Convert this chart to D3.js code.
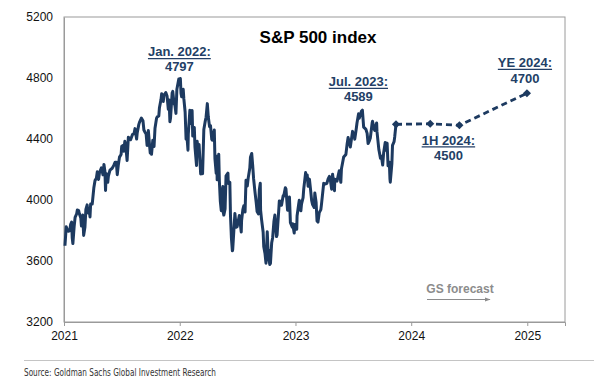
<!DOCTYPE html>
<html>
<head>
<meta charset="utf-8">
<script src="https://cdn.jsdelivr.net/npm/d3@7"></script>
<style>
  html, body { margin: 0; padding: 0; background: #fff; }
  svg { display: block; font-family: Arial, "Liberation Sans", sans-serif; }
</style>
</head>
<body>
<svg id="chart" width="610" height="386"></svg>
<script>
// S&P 500 closes (date, level)
const spx = [
  ["2021-01-04",3700],["2021-01-08",3824],["2021-01-12",3801],["2021-01-14",3795],["2021-01-19",3798],
  ["2021-01-22",3841],["2021-01-25",3855],["2021-01-27",3750],["2021-01-29",3714],["2021-02-02",3826],
  ["2021-02-05",3886],["2021-02-10",3910],["2021-02-12",3934],["2021-02-16",3932],["2021-02-19",3906],
  ["2021-02-23",3881],["2021-02-25",3829],["2021-03-01",3901],["2021-03-04",3768],["2021-03-08",3821],
  ["2021-03-11",3939],["2021-03-15",3968],["2021-03-18",3915],["2021-03-23",3910],["2021-03-24",3889],
  ["2021-03-26",3974],["2021-03-31",3973],["2021-04-05",4078],["2021-04-09",4129],["2021-04-13",4142],
  ["2021-04-16",4185],["2021-04-20",4135],["2021-04-23",4180],["2021-04-29",4211],["2021-05-04",4165],
  ["2021-05-07",4233],["2021-05-10",4189],["2021-05-12",4063],["2021-05-14",4174],["2021-05-19",4116],
  ["2021-05-21",4156],["2021-05-26",4196],["2021-06-02",4208],["2021-06-07",4227],["2021-06-11",4247],
  ["2021-06-15",4247],["2021-06-18",4166],["2021-06-21",4224],["2021-06-25",4281],["2021-06-30",4298],
  ["2021-07-02",4352],["2021-07-07",4358],["2021-07-08",4320],["2021-07-12",4385],["2021-07-16",4327],
  ["2021-07-19",4259],["2021-07-23",4412],["2021-07-27",4401],["2021-07-30",4395],["2021-08-05",4429],
  ["2021-08-10",4436],["2021-08-13",4468],["2021-08-18",4400],["2021-08-20",4442],["2021-08-25",4496],
  ["2021-08-27",4509],["2021-09-02",4537],["2021-09-07",4520],["2021-09-10",4459],["2021-09-14",4443],
  ["2021-09-17",4433],["2021-09-20",4358],["2021-09-24",4455],["2021-09-28",4353],["2021-09-30",4308],
  ["2021-10-01",4357],["2021-10-04",4300],["2021-10-08",4391],["2021-10-12",4351],["2021-10-15",4471],
  ["2021-10-20",4537],["2021-10-22",4545],["2021-10-27",4551],["2021-10-29",4605],["2021-11-03",4660],
  ["2021-11-05",4697],["2021-11-09",4685],["2021-11-10",4646],["2021-11-12",4683],["2021-11-18",4704],
  ["2021-11-22",4682],["2021-11-26",4595],["2021-11-29",4655],["2021-11-30",4567],["2021-12-01",4513],
  ["2021-12-03",4538],["2021-12-08",4701],["2021-12-10",4712],["2021-12-14",4634],["2021-12-17",4620],
  ["2021-12-20",4568],["2021-12-23",4726],["2021-12-29",4793],["2021-12-31",4766],
  ["2022-01-03",4797],["2022-01-05",4700],["2022-01-07",4677],["2022-01-12",4726],["2022-01-14",4663],
  ["2022-01-18",4577],["2022-01-21",4398],["2022-01-24",4410],["2022-01-27",4327],["2022-01-28",4432],
  ["2022-02-02",4589],["2022-02-04",4501],["2022-02-09",4587],["2022-02-11",4419],["2022-02-16",4475],
  ["2022-02-18",4349],["2022-02-23",4226],["2022-02-25",4385],["2022-03-01",4306],["2022-03-03",4364],
  ["2022-03-08",4171],["2022-03-11",4204],["2022-03-14",4173],["2022-03-18",4463],["2022-03-22",4512],
  ["2022-03-25",4543],["2022-03-29",4632],["2022-04-01",4546],["2022-04-05",4481],["2022-04-08",4488],
  ["2022-04-12",4397],["2022-04-14",4393],["2022-04-20",4459],["2022-04-22",4272],["2022-04-26",4175],
  ["2022-04-28",4287],["2022-04-29",4132],["2022-05-04",4300],["2022-05-06",4123],["2022-05-09",3991],
  ["2022-05-12",3930],["2022-05-13",4023],["2022-05-17",4088],["2022-05-18",3923],["2022-05-20",3901],
  ["2022-05-24",3941],["2022-05-27",4158],["2022-06-02",4176],["2022-06-03",4109],["2022-06-08",4116],
  ["2022-06-10",3901],["2022-06-13",3750],["2022-06-16",3667],["2022-06-17",3675],["2022-06-24",3912],
  ["2022-06-28",3821],["2022-07-01",3825],["2022-07-08",3899],["2022-07-14",3790],["2022-07-15",3863],
  ["2022-07-19",3937],["2022-07-22",3962],["2022-07-26",3921],["2022-07-29",4130],["2022-08-02",4091],
  ["2022-08-05",4145],["2022-08-10",4210],["2022-08-12",4280],["2022-08-16",4305],["2022-08-19",4228],
  ["2022-08-22",4138],["2022-08-26",4058],["2022-08-30",3986],["2022-09-02",3924],["2022-09-06",3909],
  ["2022-09-09",4067],["2022-09-12",4110],["2022-09-13",3933],["2022-09-16",3873],["2022-09-21",3790],
  ["2022-09-23",3693],["2022-09-27",3647],["2022-09-30",3586],["2022-10-04",3791],["2022-10-07",3640],
  ["2022-10-12",3577],["2022-10-13",3670],["2022-10-14",3583],["2022-10-18",3720],["2022-10-21",3753],
  ["2022-10-25",3859],["2022-10-28",3901],["2022-11-02",3760],["2022-11-04",3771],["2022-11-10",3956],
  ["2022-11-11",3993],["2022-11-15",3992],["2022-11-18",3965],["2022-11-23",4027],["2022-11-25",4026],
  ["2022-11-30",4080],["2022-12-02",4072],["2022-12-07",3933],["2022-12-09",3934],["2022-12-13",4020],
  ["2022-12-16",3852],["2022-12-22",3822],["2022-12-23",3845],["2022-12-28",3783],["2022-12-30",3840],
  ["2023-01-05",3808],["2023-01-06",3895],["2023-01-11",3970],["2023-01-13",3999],["2023-01-18",3929],
  ["2023-01-20",3973],["2023-01-25",4016],["2023-01-27",4071],["2023-02-02",4180],["2023-02-03",4136],
  ["2023-02-07",4164],["2023-02-10",4090],["2023-02-14",4137],["2023-02-17",4079],["2023-02-21",3997],
  ["2023-02-24",3970],["2023-03-01",3951],["2023-03-03",4046],["2023-03-07",3986],["2023-03-10",3862],
  ["2023-03-13",3855],["2023-03-17",3917],["2023-03-22",3937],["2023-03-24",3971],["2023-03-31",4109],
  ["2023-04-06",4105],["2023-04-10",4109],["2023-04-14",4138],["2023-04-18",4155],["2023-04-21",4133],
  ["2023-04-25",4071],["2023-04-28",4169],["2023-05-04",4061],["2023-05-05",4136],["2023-05-12",4124],
  ["2023-05-19",4192],["2023-05-24",4116],["2023-05-26",4205],["2023-06-02",4282],["2023-06-09",4299],
  ["2023-06-13",4369],["2023-06-16",4410],["2023-06-23",4348],["2023-06-30",4450],["2023-07-06",4411],
  ["2023-07-07",4399],["2023-07-12",4472],["2023-07-14",4505],["2023-07-19",4566],["2023-07-21",4536],
  ["2023-07-26",4566],["2023-07-28",4582],["2023-07-31",4589],["2023-08-04",4478],["2023-08-09",4468],
  ["2023-08-11",4464],["2023-08-15",4437],["2023-08-18",4370],["2023-08-22",4388],["2023-08-25",4406],
  ["2023-08-31",4508],["2023-09-01",4516],["2023-09-06",4465],["2023-09-08",4457],["2023-09-14",4505],
  ["2023-09-15",4450],["2023-09-21",4330],["2023-09-22",4320],["2023-09-26",4274],["2023-09-29",4288],
  ["2023-10-03",4229],["2023-10-06",4308],["2023-10-11",4377],["2023-10-13",4327],["2023-10-17",4373],
  ["2023-10-20",4224],["2023-10-24",4248],["2023-10-26",4137],["2023-10-27",4117],["2023-11-01",4238],
  ["2023-11-03",4358],["2023-11-08",4383],["2023-11-10",4415],["2023-11-14",4496]
];

// GS forecast path
const forecastDates = ["2023-11-14", "2024-03-01", "2024-06-01", "2024-12-31"];
const forecastValues = [4496, 4500, 4490, 4700];

const yTicks = [3200, 3600, 4000, 4400, 4800, 5200];
const xTickYears = [2021, 2022, 2023, 2024, 2025];

// callouts: label, value text, anchor date
const calloutLabels = ["Jan. 2022:", "Jul. 2023:", "1H 2024:", "YE 2024:"];
const calloutValues = ["4797", "4589", "4500", "4700"];
const calloutDates = ["2022-01-03", "2023-07-31", "2024-06-01", "2024-12-31"];

const parse = d3.timeParse("%Y-%m-%d");
const navy = "#1d3a60";
const labelNavy = "#233f66";

const svg = d3.select("#chart");
const margin = { left: 64, top: 17, right: 45, bottom: 64 };
const W = 610, H = 386;
const plotW = W - margin.left - margin.right;
const plotH = H - margin.top - margin.bottom;

const x = d3.scaleTime()
  .domain([new Date(2021, 0, 1), new Date(2025, 3, 30)])
  .range([margin.left, margin.left + plotW]);
const y = d3.scaleLinear()
  .domain([3200, 5200])
  .range([margin.top + plotH, margin.top]);

// frame
svg.append("rect")
  .attr("x", margin.left).attr("y", margin.top)
  .attr("width", plotW).attr("height", plotH)
  .attr("fill", "none").attr("stroke", "#9a9a9a").attr("stroke-width", 1);

// x axis
const xAxis = d3.axisBottom(x)
  .tickValues(xTickYears.map(yr => new Date(yr, 0, 1)))
  .tickFormat(d3.timeFormat("%Y"))
  .tickSize(4).tickPadding(5);
const gx = svg.append("g")
  .attr("transform", `translate(0,${margin.top + plotH})`)
  .call(xAxis);
gx.select(".domain").attr("stroke", "#9a9a9a");
gx.selectAll(".tick line").attr("stroke", "#9a9a9a");
gx.selectAll("text").attr("fill", "#111").style("font-size", "12px")
  .style("font-family", "Arial, 'Liberation Sans', sans-serif");

// y axis
const yAxis = d3.axisLeft(y).tickValues(yTicks).tickSize(0).tickPadding(11)
  .tickFormat(d3.format("d"));
const gy = svg.append("g")
  .attr("transform", `translate(${margin.left},0)`)
  .call(yAxis);
gy.select(".domain").attr("stroke", "#9a9a9a");
gy.selectAll("text").attr("fill", "#111").style("font-size", "12px")
  .style("font-family", "Arial, 'Liberation Sans', sans-serif");

// title
svg.append("text")
  .attr("x", 318).attr("y", 43)
  .attr("text-anchor", "middle")
  .style("font-size", "17px").style("font-weight", "bold")
  .attr("fill", "#000")
  .text("S&P 500 index");

// actual series
const line = d3.line()
  .x(d => x(parse(d[0])))
  .y(d => y(d[1]));
svg.append("path")
  .datum(spx)
  .attr("d", line)
  .attr("fill", "none")
  .attr("stroke", navy)
  .attr("stroke-width", 3)
  .attr("stroke-linejoin", "round");

// forecast
const fc = forecastDates.map((d, i) => ({ date: parse(d), value: forecastValues[i] }));
svg.append("path")
  .datum(fc)
  .attr("d", d3.line().x(d => x(d.date)).y(d => y(d.value)))
  .attr("fill", "none")
  .attr("stroke", navy)
  .attr("stroke-width", 2.8)
  .attr("stroke-dasharray", "6,4");
svg.selectAll(".diamond")
  .data(fc)
  .enter().append("path")
  .attr("class", "diamond")
  .attr("d", d3.symbol().type(d3.symbolDiamond2).size(42))
  .attr("transform", d => `translate(${x(d.date)},${y(d.value)})`)
  .attr("fill", navy);

// callouts (offsets relative to anchor point)
const calloutOffsets = [
  { dx: -1, dy1: -22, dy2: -7 },
  { dx: -4, dy1: -24, dy2: -9 },
  { dx: -11, dy1: 21, dy2: 36 },
  { dx: -2, dy1: -26, dy2: -10 }
];
calloutLabels.forEach((lab, i) => {
  const px = x(parse(calloutDates[i])) + calloutOffsets[i].dx;
  const py = y(+calloutValues[i]);
  const g = svg.append("g");
  const t = g.append("text")
    .attr("x", px).attr("y", py + calloutOffsets[i].dy1)
    .attr("text-anchor", "middle")
    .style("font-size", "13px").style("font-weight", "bold")
    .attr("fill", labelNavy)
    .text(lab);
  const bb = t.node().getBBox();
  g.append("line")
    .attr("x1", bb.x).attr("x2", bb.x + bb.width)
    .attr("y1", py + calloutOffsets[i].dy1 + 2.2).attr("y2", py + calloutOffsets[i].dy1 + 2.2)
    .attr("stroke", labelNavy).attr("stroke-width", 1.2);
  g.append("text")
    .attr("x", px).attr("y", py + calloutOffsets[i].dy2)
    .attr("text-anchor", "middle")
    .style("font-size", "13px").style("font-weight", "bold")
    .attr("fill", labelNavy)
    .text(calloutValues[i]);
});

// GS forecast marker
svg.append("text")
  .attr("x", 460).attr("y", 293)
  .attr("text-anchor", "middle")
  .style("font-size", "12px").style("font-weight", "bold")
  .attr("fill", "#8c8c8c")
  .text("GS forecast");
svg.append("defs").append("marker")
  .attr("id", "arr").attr("viewBox", "0 0 10 10")
  .attr("refX", 9).attr("refY", 5)
  .attr("markerWidth", 5).attr("markerHeight", 5)
  .attr("orient", "auto")
  .append("path").attr("d", "M0,1.5L10,5L0,8.5Z").attr("fill", "#8c8c8c");
svg.append("line")
  .attr("x1", 427).attr("x2", 490).attr("y1", 299.5).attr("y2", 299.5)
  .attr("stroke", "#8c8c8c").attr("stroke-width", 1.2)
  .attr("marker-end", "url(#arr)");

// source
svg.append("line")
  .attr("x1", 24).attr("x2", 594).attr("y1", 360.5).attr("y2", 360.5)
  .attr("stroke", "#c4c4c4").attr("stroke-width", 1);
svg.append("text")
  .attr("x", 24).attr("y", 376)
  .style("font-size", "11px")
  .style("font-family", "'Liberation Sans Narrow', 'DejaVu Sans Condensed', 'Arial Narrow', sans-serif")
  .attr("textLength", 192)
  .attr("lengthAdjust", "spacingAndGlyphs")
  .attr("fill", "#333")
  .text("Source: Goldman Sachs Global Investment Research");
</script>
</body>
</html>
